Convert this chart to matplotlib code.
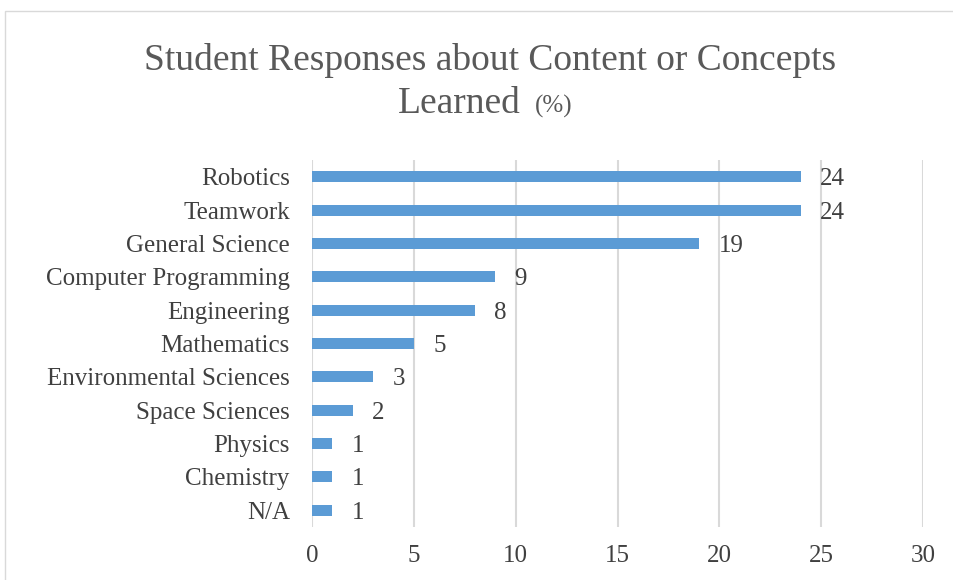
import matplotlib.pyplot as plt
from matplotlib.patches import Rectangle

plt.rcParams["font.family"] = ["Liberation Serif", "DejaVu Serif"]

# data
categories = ["Robotics", "Teamwork", "General Science", "Computer Programming",
              "Engineering", "Mathematics", "Environmental Sciences",
              "Space Sciences", "Physics", "Chemistry", "N/A"]
values = [24, 24, 19, 9, 8, 5, 3, 2, 1, 1, 1]
xticks = [0, 5, 10, 15, 20, 25, 30]

W, H = 954, 580
fig = plt.figure(figsize=(W / 100, H / 100), dpi=100)
ax = fig.add_axes([312 / W, 1 - 527 / H, (923 - 312) / W, (527 - 160) / H])

ypos = list(range(len(categories)))
ax.barh(ypos, values, height=0.33, color="#5B9BD5", zorder=3)
ax.set_ylim(len(categories) - 0.5, -0.5)
ax.set_xlim(0, 30)
ax.set_xticks(xticks)
ax.set_yticks(ypos)
ax.set_yticklabels(categories)

ax.grid(axis="x", color="#D9D9D9", linewidth=1.5, zorder=0)
for s in ax.spines.values():
    s.set_visible(False)
ax.tick_params(axis="both", length=0, labelsize=18, labelcolor="#404040")
ax.tick_params(axis="x", pad=13)
ax.tick_params(axis="y", pad=16)

for y, v in zip(ypos, values):
    ax.annotate(str(v), (v, y), xytext=(14, 0), textcoords="offset points",
                va="center_baseline", ha="left", fontsize=18, color="#404040")

# title
fig.text(490 / W, 1 - 61 / H, "Student Responses about Content or Concepts",
         ha="center", va="center", fontsize=27, color="#595959")
fig.text(521 / W, 1 - 104 / H, "Learned", ha="right", va="center",
         fontsize=27, color="#595959")
fig.text(535 / W, 1 - 106 / H, "(%)", ha="left", va="center",
         fontsize=18, color="#595959")

# chart frame
fig.add_artist(Rectangle((5 / W, -0.1), 1.0, (H - 11) / H + 0.1,
                         transform=fig.transFigure, fill=False,
                         edgecolor="#D9D9D9", linewidth=1))

fig.savefig("out.png", dpi=100)
